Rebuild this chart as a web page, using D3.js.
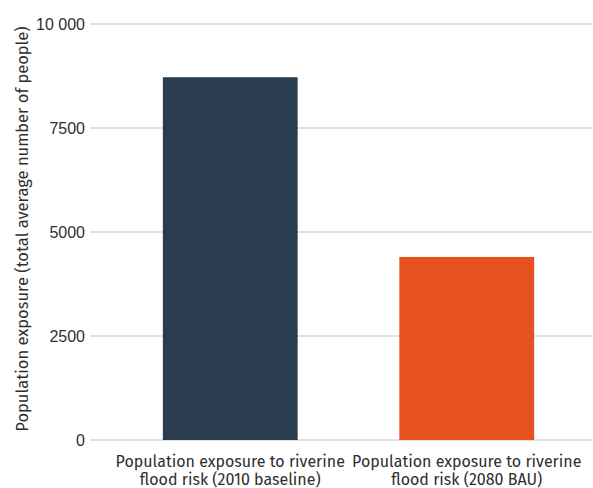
<!DOCTYPE html>
<html>
<head>
<meta charset="utf-8">
<script src="https://cdn.jsdelivr.net/npm/d3@7"></script>
<style>
  html, body { margin: 0; padding: 0; background: #fff; }
  svg { display: block; font-family: "Fira Sans", Roboto, "Noto Sans", sans-serif; }
</style>
</head>
<body>
<svg id="chart" width="593" height="488"></svg>
<script>
// Categories (each label split into two lines) and their values
const categories = [
  ["Population exposure to riverine", "flood risk (2010 baseline)"],
  ["Population exposure to riverine", "flood risk (2080 BAU)"]
];
const values = [8720, 4400];
const barColors = ["#2b3e50", "#e6521f"];
const yTicks = [0, 2500, 5000, 7500, 10000];
const yTickLabels = ["0", "2500", "5000", "7500", "10 000"];
const yTitle = "Population exposure (total average number of people)";

const svg = d3.select("#chart");
const gridLeft = 90, gridRight = 592;
const plotTop = 24, plotBottom = 440;
const textColor = "#2e2e2e";

const y = d3.scaleLinear().domain([0, 10000]).range([plotBottom, plotTop]);
const x = d3.scaleBand()
  .domain(d3.range(categories.length))
  .range([112, 585])
  .paddingInner(0.43)
  .paddingOuter(0.215);

// Horizontal gridlines
svg.append("g")
  .selectAll("line")
  .data(yTicks)
  .join("line")
  .attr("x1", gridLeft)
  .attr("x2", gridRight)
  .attr("y1", d => y(d))
  .attr("y2", d => y(d))
  .attr("stroke", "#e2e2e2")
  .attr("stroke-width", 2);

// Y axis tick labels
const yAxis = d3.axisLeft(y)
  .tickValues(yTicks)
  .tickFormat((d, i) => yTickLabels[i])
  .tickSize(0)
  .tickPadding(0);
const yg = svg.append("g")
  .attr("transform", `translate(${gridLeft - 5},0)`)
  .call(yAxis);
yg.select(".domain").remove();
yg.selectAll("text")
  .attr("fill", textColor)
  .style("font-size", "16px")
  .style("font-family", "inherit");

// Bars
svg.append("g")
  .selectAll("rect")
  .data(values)
  .join("rect")
  .attr("x", (d, i) => x(i))
  .attr("width", x.bandwidth())
  .attr("y", d => y(d))
  .attr("height", d => y(0) - y(d))
  .attr("fill", (d, i) => barColors[i]);

// X axis category labels
const xl = svg.append("g")
  .selectAll("text")
  .data(categories)
  .join("text")
  .attr("x", (d, i) => x(i) + x.bandwidth() / 2)
  .attr("y", 467)
  .attr("text-anchor", "middle")
  .attr("fill", textColor)
  .style("font-size", "16px");
xl.selectAll("tspan")
  .data(d => d)
  .join("tspan")
  .attr("x", function () { return this.parentNode.getAttribute("x"); })
  .attr("dy", (d, i) => i === 0 ? 0 : 17.5)
  .text(d => d);

// Y axis title
svg.append("text")
  .attr("transform", "translate(28,229) rotate(-90)")
  .attr("text-anchor", "middle")
  .attr("fill", textColor)
  .style("font-size", "16.5px")
  .text(yTitle);
</script>
</body>
</html>
